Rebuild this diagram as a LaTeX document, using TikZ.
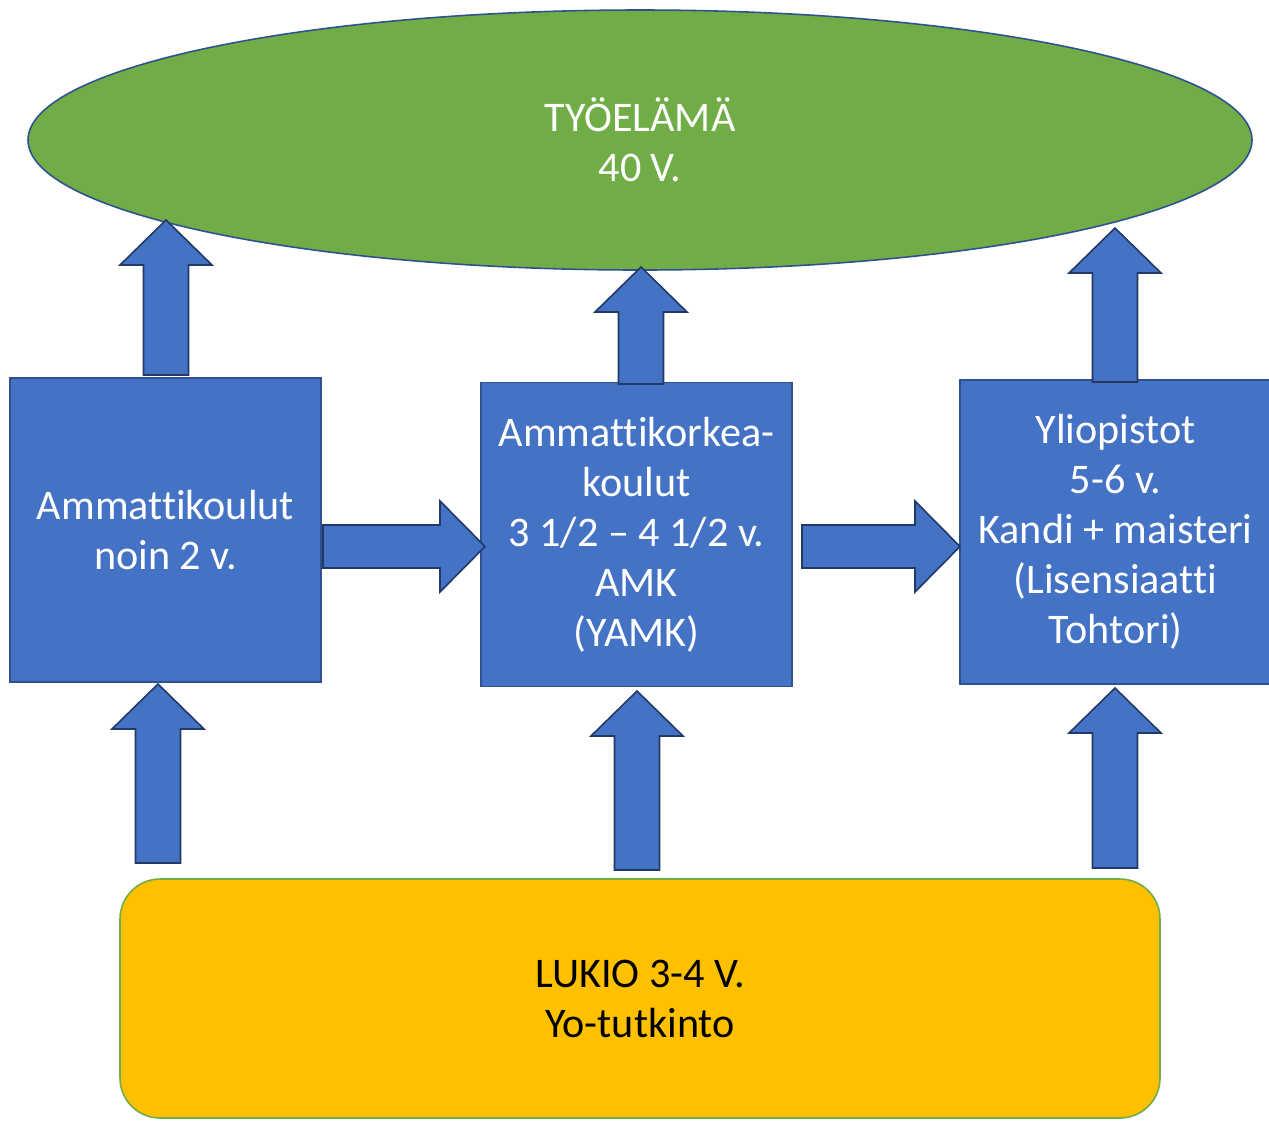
\documentclass[tikz,border=0pt]{standalone}
\usepackage{fontspec}
\setmainfont[Ligatures=NoCommon]{Carlito}
\usetikzlibrary{shapes.geometric}
\definecolor{boxblue}{HTML}{4472C4}
\definecolor{edgeblue}{HTML}{2F528F}
\definecolor{workgreen}{HTML}{70AD47}
\definecolor{lukioyellow}{HTML}{FFC000}
\tikzset{
    schoolbox/.style={draw=edgeblue,line width=0.9pt,fill=boxblue,text=white,
        minimum width=6.22cm,minimum height=6.08cm,inner sep=0pt,align=center},
    blockarrow/.style={draw=edgeblue!70!black,line width=0.9pt,fill=boxblue,line join=miter}
}
% block arrows: x, bottom, top  /  y, left, right
\newcommand{\uparr}[3]{\draw[blockarrow] ({#1-0.45},#2) -- ({#1-0.45},{#3-0.9}) -- ({#1-0.92},{#3-0.9})
    -- (#1,#3) -- ({#1+0.92},{#3-0.9}) -- ({#1+0.45},{#3-0.9}) -- ({#1+0.45},#2) -- cycle;}
\newcommand{\rtarr}[3]{\draw[blockarrow] (#2,{#1+0.43}) -- ({#3-0.9},{#1+0.43}) -- ({#3-0.9},{#1+0.91})
    -- (#3,#1) -- ({#3-0.9},{#1-0.91}) -- ({#3-0.9},{#1-0.43}) -- (#2,{#1-0.43}) -- cycle;}
\begin{document}
\begin{tikzpicture}[font=\fontsize{24}{28.4}\selectfont]
        \useasboundingbox (0,0) rectangle (25.38,-22.42);
        \node[ellipse,draw=edgeblue,line width=0.9pt,fill=workgreen,text=white,align=center,
            minimum width=24.48cm,minimum height=5.2cm] (tyoelama) at (12.8,-2.8) {TYÖELÄMÄ\\40 V.};
        \node[schoolbox] (ammattikoulut) at (3.31,-10.6) {Ammattikoulut\\noin 2 v.};
        \node[schoolbox] (amk) at (12.73,-10.69) {Ammattikorkea-\\koulut\\3 1/2 – 4 1/2 v.\\AMK\\(YAMK)};
        \node[schoolbox] (yliopistot) at (22.31,-10.64) {Yliopistot\\5-6 v.\\Kandi + maisteri\\(Lisensiaatti\\Tohtori)};
        \node[draw=workgreen,line width=0.9pt,fill=lukioyellow,rounded corners=0.8cm,align=center,
            minimum width=20.8cm,minimum height=4.78cm] (lukio) at (12.8,-19.97) {LUKIO 3-4 V.\\Yo-tutkinto};
        % up to working life
        \uparr{3.32}{-7.5}{-4.4}
        \uparr{12.82}{-7.68}{-5.34}
        \uparr{22.3}{-7.64}{-4.56}
        % up from lukio
        \uparr{3.16}{-17.26}{-13.68}
        \uparr{12.74}{-17.4}{-13.82}
        \uparr{22.3}{-17.36}{-13.76}
        % sideways
        \rtarr{-10.93}{6.46}{9.7}
        \rtarr{-10.93}{16.04}{19.2}
    \end{tikzpicture}
\end{document}
